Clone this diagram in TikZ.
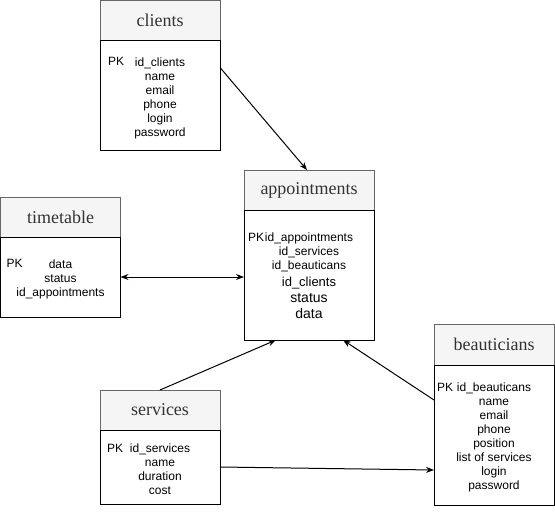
\documentclass[tikz,border=0pt]{standalone}
\usepackage{fontspec}
\setmainfont{Liberation Sans}
\newfontfamily\headfont{Liberation Serif}
\usetikzlibrary{positioning}
\usetikzlibrary{arrows.meta}

\begin{document}
\begin{tikzpicture}[x=1pt,y=-1pt,>={Stealth[length=8pt,width=6pt]},
	head/.style={draw=black!60,fill=black!4,line width=1pt,outer sep=0pt,inner sep=0pt,
		minimum width=120pt,minimum height=40pt,anchor=north west,
		font=\headfont\fontsize{18}{20}\selectfont,text=black!80},
	body/.style={draw,line width=1pt,outer sep=0pt,inner sep=0pt,minimum width=120pt},
	field/.style={anchor=north,inner sep=0pt,align=center,font=\fontsize{12}{14}\selectfont},
	pk/.style={anchor=north west,inner sep=0pt,font=\fontsize{12}{14}\selectfont},
	link/.style={line width=1pt,->}]
	\useasboundingbox (0,0) rectangle (555,515);							% рамка

	% clients
	\node[head] (clientsH) at (100,0.5) {clients};
	\node[body,minimum height=110pt,below=0pt of clientsH] (clients) {};
	\node[pk] (clientsPK) at ([xshift=8pt,yshift=-17pt]clients.north west) {PK};
	\node[field] (clientsF) at ([yshift=-17pt]clients.north)
		{id\_clients\\name\\email\\phone\\login\\password};

	% appointments
	\node[head,minimum width=130pt] (appointmentsH) at (244,170) {appointments};
	\node[body,minimum width=130pt,minimum height=130pt,below=0pt of appointmentsH] (appointments) {};
	\node[pk] (appointmentsPK) at ([xshift=4pt,yshift=-23pt]appointments.north west) {PK};
	\node[field] (appointmentsF) at ([yshift=-23pt]appointments.north)
		{id\_appointments\\id\_services\\id\_beauticans\\[3pt]
		{\fontsize{13}{15}\selectfont id\_clients}\\[2pt]
		{\fontsize{14}{16}\selectfont status}\\[2pt]
		{\fontsize{14}{16}\selectfont data}};

	% timetable
	\node[head] (timetableH) at (0.5,197) {timetable};
	\node[body,minimum height=80pt,below=0pt of timetableH] (timetable) {};
	\node[pk] (timetablePK) at ([xshift=6pt,yshift=-22pt]timetable.north west) {PK};
	\node[field] (timetableF) at ([yshift=-23pt]timetable.north)
		{data\\status\\id\_appointments};

	% beauticians
	\node[head,minimum height=41pt] (beauticiansH) at (434,324) {beauticians};
	\node[body,minimum height=140pt,below=0pt of beauticiansH] (beauticians) {};
	\node[pk] (beauticiansPK) at ([xshift=3pt,yshift=-18pt]beauticians.north west) {PK};
	\node[field] (beauticiansF) at ([yshift=-18pt]beauticians.north)
		{id\_beauticans\\name\\email\\phone\\position\\list of services\\login\\password};

	% services
	\node[head] (servicesH) at (100,390) {services};
	\node[body,minimum height=74pt,below=0pt of servicesH] (services) {};
	\node[pk] (servicesPK) at ([xshift=7pt,yshift=-14pt]services.north west) {PK};
	\node[field] (servicesF) at ([yshift=-14pt]services.north)
		{id\_services\\name\\duration\\cost};

	% связи
	\draw[link] ([yshift=-27pt]clients.north east) -- ([xshift=-2pt]appointmentsH.north);
	\draw[link,<->] (timetable.east) -- (timetable.east -| appointments.west);
	\draw[link] (servicesH.north) -- ([xshift=-33pt]appointments.south);
	\draw[link] ([yshift=-35pt]beauticians.north west) -- ([xshift=34pt]appointments.south);
	\draw[link] (services.east) -- ([yshift=-105pt]beauticians.north west);
\end{tikzpicture}
\end{document}
